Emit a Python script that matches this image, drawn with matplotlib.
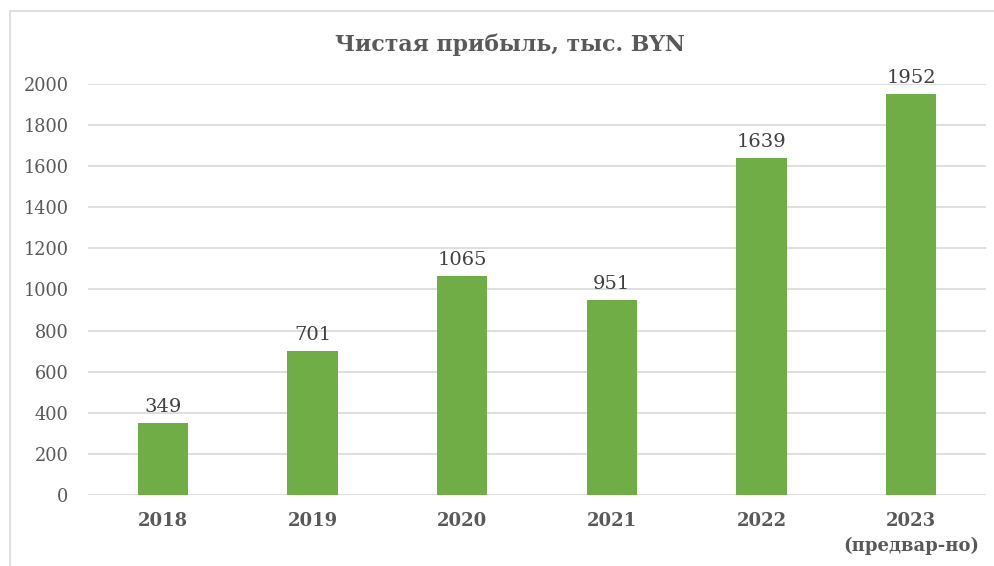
import matplotlib.pyplot as plt
from matplotlib.patches import Rectangle

# data
years = ['2018', '2019', '2020', '2021', '2022', '2023\n(предвар-но)']
profit = [349, 701, 1065, 951, 1639, 1952]
y_ticks = [0, 200, 400, 600, 800, 1000, 1200, 1400, 1600, 1800, 2000]

green = '#70AD47'
text_col = '#595959'
grid_col = '#D9D9D9'

plt.rcParams['font.family'] = ['DejaVu Serif']

W, H = 994, 566
fig = plt.figure(figsize=(W / 100, H / 100), dpi=100)
ax = fig.add_axes([88 / W, 1 - 495 / H, (986 - 88) / W, (495 - 84) / H])

# chart frame (cropped at right and bottom)
fig.patches.append(Rectangle((10 / W, -0.1), 1.2, 1 - 11 / H + 0.1,
                             transform=fig.transFigure, fill=False,
                             edgecolor=grid_col, linewidth=1.2))

x = range(len(years))
bars = ax.bar(x, profit, width=0.335, color=green, zorder=3)

for b, v in zip(bars, profit):
    ax.annotate(str(v), (b.get_x() + b.get_width() / 2, v),
                xytext=(0, 5), textcoords='offset points',
                ha='center', va='bottom', fontsize=14, color='#404040')

ax.set_xlim(-0.5, len(years) - 0.5)
ax.set_ylim(0, 2000)
ax.set_yticks(y_ticks)
ax.set_xticks(list(x))
ax.set_xticklabels(years, fontweight='bold', fontsize=13, color=text_col,
                   linespacing=1.5, va='top')
ax.tick_params(axis='y', length=0, pad=14, labelsize=12.8, labelcolor=text_col)
ax.tick_params(axis='x', length=0, pad=12)
ax.yaxis.grid(True, color=grid_col, linewidth=1.2, zorder=0)
ax.set_axisbelow(True)
for s in ax.spines.values():
    s.set_visible(False)

fig.text(509.5 / W, 1 - 45 / H, 'Чистая прибыль, тыс. BYN', ha='center',
         va='center', fontsize=15.8, fontweight='bold', color=text_col)

fig.savefig('out.png', dpi=100)
